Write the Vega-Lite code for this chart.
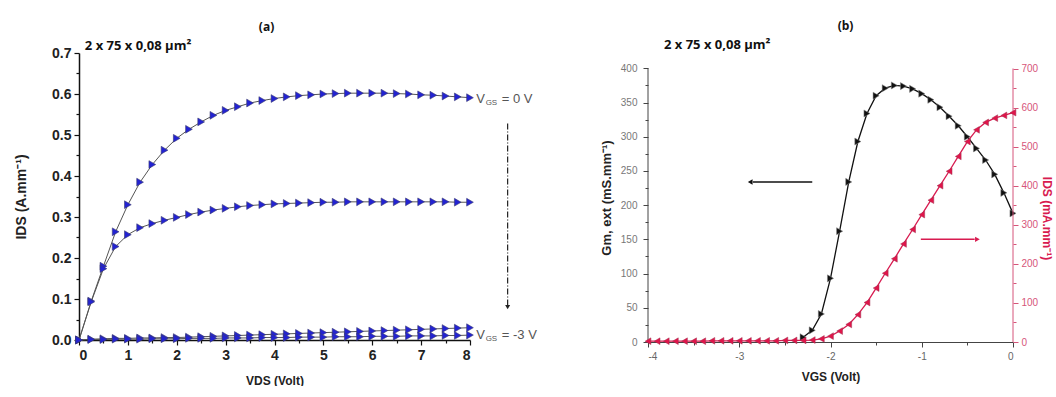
{
 "$schema": "https://vega.github.io/schema/vega-lite/v6.json",
 "background": "white",
 "padding": {"left": 14, "top": 20, "right": 0, "bottom": 0},
 "spacing": 63,
 "config": {"view": {"stroke": null}, "axis": {"grid": false, "domainColor": "#111", "tickColor": "#111"}},
 "datasets": {
  "iv": [
   {"vgs":"0","vds":0,"ids":0},{"vgs":"0","vds":0.25,"ids":0.095},{"vgs":"0","vds":0.5,"ids":0.18},{"vgs":"0","vds":0.75,"ids":0.264},{"vgs":"0","vds":1,"ids":0.33},{"vgs":"0","vds":1.25,"ids":0.385},{"vgs":"0","vds":1.5,"ids":0.428},{"vgs":"0","vds":1.75,"ids":0.463},{"vgs":"0","vds":2,"ids":0.492},{"vgs":"0","vds":2.25,"ids":0.514},{"vgs":"0","vds":2.5,"ids":0.532},{"vgs":"0","vds":2.75,"ids":0.548},{"vgs":"0","vds":3,"ids":0.56},{"vgs":"0","vds":3.25,"ids":0.569},{"vgs":"0","vds":3.5,"ids":0.578},{"vgs":"0","vds":3.75,"ids":0.584},{"vgs":"0","vds":4,"ids":0.589},{"vgs":"0","vds":4.25,"ids":0.593},{"vgs":"0","vds":4.5,"ids":0.596},{"vgs":"0","vds":4.75,"ids":0.598},{"vgs":"0","vds":5,"ids":0.6},{"vgs":"0","vds":5.25,"ids":0.601},{"vgs":"0","vds":5.5,"ids":0.602},{"vgs":"0","vds":5.75,"ids":0.602},{"vgs":"0","vds":6,"ids":0.602},{"vgs":"0","vds":6.25,"ids":0.602},{"vgs":"0","vds":6.5,"ids":0.601},{"vgs":"0","vds":6.75,"ids":0.6},{"vgs":"0","vds":7,"ids":0.598},{"vgs":"0","vds":7.25,"ids":0.597},{"vgs":"0","vds":7.5,"ids":0.595},{"vgs":"0","vds":7.75,"ids":0.593},{"vgs":"0","vds":8,"ids":0.591},
   {"vgs":"-1","vds":0,"ids":0},{"vgs":"-1","vds":0.25,"ids":0.093},{"vgs":"-1","vds":0.5,"ids":0.174},{"vgs":"-1","vds":0.75,"ids":0.228},{"vgs":"-1","vds":1,"ids":0.257},{"vgs":"-1","vds":1.25,"ids":0.274},{"vgs":"-1","vds":1.5,"ids":0.284},{"vgs":"-1","vds":1.75,"ids":0.292},{"vgs":"-1","vds":2,"ids":0.299},{"vgs":"-1","vds":2.25,"ids":0.306},{"vgs":"-1","vds":2.5,"ids":0.312},{"vgs":"-1","vds":2.75,"ids":0.317},{"vgs":"-1","vds":3,"ids":0.321},{"vgs":"-1","vds":3.25,"ids":0.325},{"vgs":"-1","vds":3.5,"ids":0.328},{"vgs":"-1","vds":3.75,"ids":0.33},{"vgs":"-1","vds":4,"ids":0.332},{"vgs":"-1","vds":4.25,"ids":0.333},{"vgs":"-1","vds":4.5,"ids":0.334},{"vgs":"-1","vds":4.75,"ids":0.335},{"vgs":"-1","vds":5,"ids":0.336},{"vgs":"-1","vds":5.25,"ids":0.336},{"vgs":"-1","vds":5.5,"ids":0.337},{"vgs":"-1","vds":5.75,"ids":0.337},{"vgs":"-1","vds":6,"ids":0.337},{"vgs":"-1","vds":6.25,"ids":0.337},{"vgs":"-1","vds":6.5,"ids":0.337},{"vgs":"-1","vds":6.75,"ids":0.337},{"vgs":"-1","vds":7,"ids":0.337},{"vgs":"-1","vds":7.25,"ids":0.337},{"vgs":"-1","vds":7.5,"ids":0.337},{"vgs":"-1","vds":7.75,"ids":0.336},{"vgs":"-1","vds":8,"ids":0.336},
   {"vgs":"-2","vds":0,"ids":0},{"vgs":"-2","vds":0.25,"ids":0.002},{"vgs":"-2","vds":0.5,"ids":0.003},{"vgs":"-2","vds":0.75,"ids":0.004},{"vgs":"-2","vds":1,"ids":0.004},{"vgs":"-2","vds":1.25,"ids":0.005},{"vgs":"-2","vds":1.5,"ids":0.005},{"vgs":"-2","vds":1.75,"ids":0.006},{"vgs":"-2","vds":2,"ids":0.006},{"vgs":"-2","vds":2.25,"ids":0.007},{"vgs":"-2","vds":2.5,"ids":0.008},{"vgs":"-2","vds":2.75,"ids":0.009},{"vgs":"-2","vds":3,"ids":0.01},{"vgs":"-2","vds":3.25,"ids":0.011},{"vgs":"-2","vds":3.5,"ids":0.012},{"vgs":"-2","vds":3.75,"ids":0.013},{"vgs":"-2","vds":4,"ids":0.014},{"vgs":"-2","vds":4.25,"ids":0.015},{"vgs":"-2","vds":4.5,"ids":0.016},{"vgs":"-2","vds":4.75,"ids":0.017},{"vgs":"-2","vds":5,"ids":0.018},{"vgs":"-2","vds":5.25,"ids":0.019},{"vgs":"-2","vds":5.5,"ids":0.02},{"vgs":"-2","vds":5.75,"ids":0.021},{"vgs":"-2","vds":6,"ids":0.022},{"vgs":"-2","vds":6.25,"ids":0.023},{"vgs":"-2","vds":6.5,"ids":0.024},{"vgs":"-2","vds":6.75,"ids":0.025},{"vgs":"-2","vds":7,"ids":0.026},{"vgs":"-2","vds":7.25,"ids":0.027},{"vgs":"-2","vds":7.5,"ids":0.028},{"vgs":"-2","vds":7.75,"ids":0.029},{"vgs":"-2","vds":8,"ids":0.03},
   {"vgs":"-3","vds":0,"ids":0},{"vgs":"-3","vds":0.25,"ids":0.001},{"vgs":"-3","vds":0.5,"ids":0.001},{"vgs":"-3","vds":0.75,"ids":0.002},{"vgs":"-3","vds":1,"ids":0.002},{"vgs":"-3","vds":1.25,"ids":0.002},{"vgs":"-3","vds":1.5,"ids":0.003},{"vgs":"-3","vds":1.75,"ids":0.003},{"vgs":"-3","vds":2,"ids":0.003},{"vgs":"-3","vds":2.25,"ids":0.004},{"vgs":"-3","vds":2.5,"ids":0.004},{"vgs":"-3","vds":2.75,"ids":0.004},{"vgs":"-3","vds":3,"ids":0.005},{"vgs":"-3","vds":3.25,"ids":0.005},{"vgs":"-3","vds":3.5,"ids":0.005},{"vgs":"-3","vds":3.75,"ids":0.006},{"vgs":"-3","vds":4,"ids":0.006},{"vgs":"-3","vds":4.25,"ids":0.006},{"vgs":"-3","vds":4.5,"ids":0.007},{"vgs":"-3","vds":4.75,"ids":0.007},{"vgs":"-3","vds":5,"ids":0.007},{"vgs":"-3","vds":5.25,"ids":0.008},{"vgs":"-3","vds":5.5,"ids":0.008},{"vgs":"-3","vds":5.75,"ids":0.008},{"vgs":"-3","vds":6,"ids":0.009},{"vgs":"-3","vds":6.25,"ids":0.009},{"vgs":"-3","vds":6.5,"ids":0.009},{"vgs":"-3","vds":6.75,"ids":0.01},{"vgs":"-3","vds":7,"ids":0.01},{"vgs":"-3","vds":7.25,"ids":0.01},{"vgs":"-3","vds":7.5,"ids":0.011},{"vgs":"-3","vds":7.75,"ids":0.011},{"vgs":"-3","vds":8,"ids":0.012}
  ],
  "gm": [
   {"vg":-2.3,"gm":7},{"vg":-2.2,"gm":17},{"vg":-2.1,"gm":41},{"vg":-2.0,"gm":93},{"vg":-1.9,"gm":162},{"vg":-1.8,"gm":234},{"vg":-1.7,"gm":293},{"vg":-1.6,"gm":334},{"vg":-1.5,"gm":360},{"vg":-1.4,"gm":371},{"vg":-1.3,"gm":375},{"vg":-1.2,"gm":374},{"vg":-1.1,"gm":370},{"vg":-1.0,"gm":363},{"vg":-0.9,"gm":354},{"vg":-0.8,"gm":343},{"vg":-0.7,"gm":330},{"vg":-0.6,"gm":316},{"vg":-0.5,"gm":300},{"vg":-0.4,"gm":283},{"vg":-0.3,"gm":266},{"vg":-0.2,"gm":245},{"vg":-0.1,"gm":218},{"vg":0,"gm":188}
  ],
  "idv": [
   {"vg":-4.0,"id":2},{"vg":-3.9,"id":2},{"vg":-3.8,"id":2},{"vg":-3.7,"id":2},{"vg":-3.6,"id":2},{"vg":-3.5,"id":2},{"vg":-3.4,"id":2},{"vg":-3.3,"id":3},{"vg":-3.2,"id":3},{"vg":-3.1,"id":3},{"vg":-3.0,"id":3},{"vg":-2.9,"id":3},{"vg":-2.8,"id":3},{"vg":-2.7,"id":3},{"vg":-2.6,"id":3},{"vg":-2.5,"id":4},{"vg":-2.4,"id":4},{"vg":-2.3,"id":4},{"vg":-2.2,"id":5},{"vg":-2.1,"id":8},{"vg":-2.0,"id":15},{"vg":-1.9,"id":28},{"vg":-1.8,"id":45},{"vg":-1.7,"id":70},{"vg":-1.6,"id":101},{"vg":-1.5,"id":138},{"vg":-1.4,"id":176},{"vg":-1.3,"id":213},{"vg":-1.2,"id":251},{"vg":-1.1,"id":288},{"vg":-1.0,"id":326},{"vg":-0.9,"id":363},{"vg":-0.8,"id":400},{"vg":-0.7,"id":437},{"vg":-0.6,"id":475},{"vg":-0.5,"id":513},{"vg":-0.4,"id":543},{"vg":-0.3,"id":562},{"vg":-0.2,"id":573},{"vg":-0.1,"id":580},{"vg":0,"id":587}
  ]
 },
 "hconcat": [
  {
   "width": 391, "height": 287,
   "title": {"text": "(a)", "font": "Open Sans", "fontSize": 12, "fontWeight": "bold", "color": "#111", "frame": "group", "dx": -8, "offset": 6},
   "encoding": {
    "x": {"field": "vds", "type": "quantitative", "scale": {"domain": [0, 8], "nice": false, "zero": false},
     "axis": {"values": [0,0.5,1,1.5,2,2.5,3,3.5,4,4.5,5,5.5,6,6.5,7,7.5,8], "labelExpr": "datum.value % 1 == 0 ? toString(datum.value) : ''",
      "tickSize": {"condition": {"test": "datum.value % 1 == 0", "value": 5}, "value": 3},
      "labelFont": "Liberation Sans", "labelFontWeight": "bold", "labelFontSize": 14, "labelColor": "#222", "labelPadding": 3,
      "domainWidth": 1.5, "tickWidth": 1.2,
      "title": "VDS (Volt)", "titleFont": "Liberation Sans", "titleFontSize": 12, "titleFontWeight": "bold", "titleColor": "#222", "titlePadding": 13}},
    "y": {"field": "ids", "type": "quantitative", "scale": {"domain": [0, 0.7], "nice": false, "zero": false},
     "axis": {"values": [0,0.05,0.1,0.15,0.2,0.25,0.3,0.35,0.4,0.45,0.5,0.55,0.6,0.65,0.7], "labelExpr": "round(datum.value*20) % 2 == 0 ? format(datum.value, '.1f') : ''",
      "tickSize": {"condition": {"test": "round(datum.value*20) % 2 == 0", "value": 5}, "value": 3},
      "labelFont": "Liberation Sans", "labelFontWeight": "bold", "labelFontSize": 14, "labelColor": "#222", "labelPadding": 3,
      "domainWidth": 1.5, "tickWidth": 1.2,
      "title": "IDS (A.mm⁻¹)", "titleFont": "Liberation Sans", "titleFontSize": 14, "titleFontWeight": "bold", "titleColor": "#222", "titlePadding": 23}}
   },
   "layer": [
    {"data": {"name": "iv"}, "mark": {"type": "line", "color": "#555", "strokeWidth": 1},
     "encoding": {"detail": {"field": "vgs"}}},
    {"data": {"name": "iv"}, "mark": {"type": "point", "shape": "triangle-right", "filled": true, "color": "#2323d2", "stroke": "#3a3a70", "strokeWidth": 0.6, "size": 60, "opacity": 1}},
    {"data": {"values": [{"vds": 0.12, "ids": 0.718, "t": "2 x 75 x 0,08 μm²"}]},
     "mark": {"type": "text", "align": "left", "baseline": "middle", "font": "Open Sans", "fontSize": 13, "fontWeight": "bold", "color": "#111"},
     "encoding": {"text": {"field": "t"}}},
    {"data": {"values": [{"vds": 8.13, "ids": 0.589, "t": "V"}, {"vds": 8.13, "ids": 0.011, "t": "V"}]},
     "mark": {"type": "text", "align": "left", "baseline": "middle", "font": "Liberation Sans", "fontSize": 13, "color": "#555"},
     "encoding": {"text": {"field": "t"}}},
    {"data": {"values": [{"vds": 8.32, "ids": 0.589, "t": "GS"}, {"vds": 8.32, "ids": 0.011, "t": "GS"}]},
     "mark": {"type": "text", "align": "left", "baseline": "middle", "font": "Liberation Sans", "fontSize": 8, "dy": 4, "color": "#555"},
     "encoding": {"text": {"field": "t"}}},
    {"data": {"values": [{"vds": 8.65, "ids": 0.589, "t": "= 0 V"}, {"vds": 8.65, "ids": 0.011, "t": "= -3 V"}]},
     "mark": {"type": "text", "align": "left", "baseline": "middle", "font": "Liberation Sans", "fontSize": 13, "color": "#555"},
     "encoding": {"text": {"field": "t"}}},
    {"data": {"values": [{"vds": 8.77, "ids": 0.528, "ids2": 0.085}]},
     "mark": {"type": "rule", "color": "#222", "strokeWidth": 1.2, "strokeDash": [6, 2, 1, 2]},
     "encoding": {"y2": {"field": "ids2"}}},
    {"data": {"values": [{"vds": 8.77, "ids": 0.08}]},
     "mark": {"type": "point", "shape": "triangle-down", "filled": true, "color": "#222", "size": 25, "opacity": 1}}
   ]
  },
  {
   "width": 365, "height": 289,
   "title": {"text": "(b)", "font": "Open Sans", "fontSize": 12, "fontWeight": "bold", "color": "#111", "frame": "group", "dx": 15, "offset": 6},
   "encoding": {
    "x": {"field": "vg", "type": "quantitative", "scale": {"domain": [-4, 0], "nice": false, "zero": false},
     "axis": {"values": [-4,-3.5,-3,-2.5,-2,-1.5,-1,-0.5,0], "labelExpr": "datum.value % 1 == 0 ? toString(datum.value) : ''",
      "tickSize": {"condition": {"test": "datum.value % 1 == 0", "value": 5}, "value": 3},
      "labelFont": "Liberation Sans", "labelFontSize": 10, "labelColor": "#666", "labelPadding": 4,
      "domainColor": "#444", "tickColor": "#444",
      "title": "VGS (Volt)", "titleFont": "Liberation Sans", "titleFontSize": 12, "titleFontWeight": "bold", "titleColor": "#222", "titlePadding": 10}}
   },
   "layer": [
    {"encoding": {
      "y": {"field": "gm", "type": "quantitative", "scale": {"domain": [0, 422.4], "nice": false, "zero": false},
       "axis": {"values": [0,25,50,75,100,125,150,175,200,225,250,275,300,325,350,375,400], "labelExpr": "datum.value % 50 == 0 ? datum.label : ''",
        "tickSize": {"condition": {"test": "datum.value % 50 == 0", "value": 5}, "value": 3},
        "labelFont": "Liberation Sans", "labelFontSize": 10, "labelColor": "#777", "labelPadding": 6,
        "domain": false, "tickColor": "#444",
        "title": "Gm, ext (mS.mm⁻¹)", "titleFont": "Liberation Sans", "titleFontSize": 13, "titleFontWeight": "bold", "titleColor": "#222", "titlePadding": 7}}
     },
     "layer": [
     {"data": {"values": [{"vg": -4, "gm": 0, "gm2": 400}]},
      "mark": {"type": "rule", "color": "#444", "strokeWidth": 1},
      "encoding": {"y2": {"field": "gm2"}}},
     {"data": {"name": "gm"}, "mark": {"type": "line", "color": "#111", "strokeWidth": 1.3}},
     {"data": {"name": "gm"}, "mark": {"type": "point", "shape": "triangle-right", "filled": true, "color": "#111", "stroke": "#888", "strokeWidth": 0.5, "size": 50, "opacity": 1}},
     {"data": {"values": [{"vg": -2.2, "vg2": -2.85, "gm": 234}]},
      "mark": {"type": "rule", "color": "#111", "strokeWidth": 1.5},
      "encoding": {"x2": {"field": "vg2"}}},
     {"data": {"values": [{"vg": -2.88, "gm": 234}]},
      "mark": {"type": "point", "shape": "triangle-left", "filled": true, "color": "#111", "size": 30, "opacity": 1}},
     {"data": {"values": [{"vg": -1.01, "vg2": -0.42, "gm": 150}]},
      "mark": {"type": "rule", "color": "#d81b50", "strokeWidth": 1.5},
      "encoding": {"x2": {"field": "vg2"}}},
     {"data": {"values": [{"vg": -0.39, "gm": 150}]},
      "mark": {"type": "point", "shape": "triangle-right", "filled": true, "color": "#d81b50", "size": 30, "opacity": 1}},
     {"data": {"values": [{"vg": -3.825, "gm": 434, "t": "2 x 75 x 0,08 μm²"}]},
      "mark": {"type": "text", "align": "left", "baseline": "middle", "font": "Open Sans", "fontSize": 13, "fontWeight": "bold", "color": "#111"},
      "encoding": {"text": {"field": "t"}}}
    ]},
    {"encoding": {
      "y": {"field": "id", "type": "quantitative", "scale": {"domain": [0, 739.7], "nice": false, "zero": false},
       "axis": {"orient": "right", "values": [0,50,100,150,200,250,300,350,400,450,500,550,600,650,700], "labelExpr": "datum.value % 100 == 0 ? datum.label : ''",
        "tickSize": {"condition": {"test": "datum.value % 100 == 0", "value": 5}, "value": 3},
        "labelFont": "Liberation Sans", "labelFontSize": 10, "labelColor": "#d6557a", "labelPadding": 3,
        "domain": false, "tickColor": "#d6557a", "titleY": 165,
        "title": "IDS (mA.mm⁻¹)", "titleFont": "Liberation Sans", "titleFontSize": 12, "titleFontWeight": "bold", "titleColor": "#d81b50", "titlePadding": 2}}
     },
     "layer": [
     {"data": {"values": [{"vg": 0, "id": 0, "id2": 700}]},
      "mark": {"type": "rule", "color": "#d6557a", "strokeWidth": 1},
      "encoding": {"y2": {"field": "id2"}}},
     {"data": {"name": "idv"}, "mark": {"type": "line", "color": "#d81b50", "strokeWidth": 1.3}},
     {"data": {"name": "idv"}, "mark": {"type": "point", "shape": "triangle-left", "filled": true, "color": "#e0154a", "stroke": "#a03050", "strokeWidth": 0.5, "size": 45, "opacity": 1}}
    ]}
   ],
   "resolve": {"scale": {"y": "independent"}}
  }
 ]
}
